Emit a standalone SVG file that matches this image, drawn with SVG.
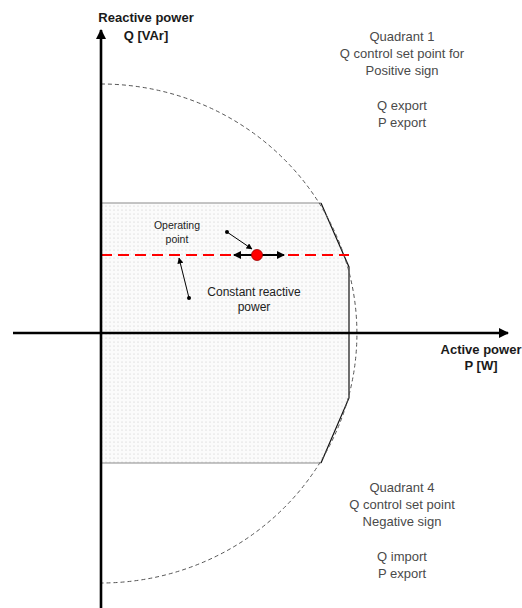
<svg xmlns="http://www.w3.org/2000/svg" width="522" height="608" viewBox="0 0 522 608">
<style>
.ax{stroke:#000;stroke-width:2.6;fill:none}
.lbl{font-family:"Liberation Sans",Arial,sans-serif;font-weight:bold;font-size:13px;fill:#1a1a1a;text-anchor:middle}
.q{font-family:"Liberation Sans",Arial,sans-serif;font-size:13px;fill:#4a4a4a;text-anchor:middle}
.sm{font-family:"Liberation Sans",Arial,sans-serif;font-size:10.5px;fill:#222;text-anchor:middle}
.md{font-family:"Liberation Sans",Arial,sans-serif;font-size:12px;fill:#222;text-anchor:middle}
.ptr{stroke:#000;stroke-width:1;fill:none}
</style>
<defs>
<pattern id="dots" width="4" height="4" patternUnits="userSpaceOnUse">
<rect width="4" height="4" fill="#fbfbfb"/>
<circle cx="2" cy="2" r="0.6" fill="#c8c8c8"/>
</pattern>
<marker id="ah" markerWidth="8" markerHeight="8" refX="7" refY="4" orient="auto" markerUnits="userSpaceOnUse">
<path d="M0,0 L8,4 L0,8 Z" fill="#000"/>
</marker>
<marker id="ahs" markerWidth="6" markerHeight="6" refX="5.5" refY="3" orient="auto" markerUnits="userSpaceOnUse">
<path d="M0,0 L6,3 L0,6 Z" fill="#000"/>
</marker>
<marker id="ahb" markerWidth="10" markerHeight="10" refX="9" refY="5" orient="auto" markerUnits="userSpaceOnUse">
<path d="M0,0 L10,5 L0,10 Z" fill="#000"/>
</marker>
</defs>
<g id="region">
<polygon points="101,203 321,203 349,267 349,398 321,463 101,463" fill="url(#dots)" stroke="none"/>
<polyline points="101,203 321,203" stroke="#8a8a8a" stroke-width="1.2" fill="none"/>
<polyline points="321,203 349,267 349,398 321,463" stroke="#111" stroke-width="1.2" fill="none"/>
<polyline points="321,463 101,463" stroke="#8a8a8a" stroke-width="1.2" fill="none"/>
</g>
<g id="circle">
<path d="M101,84 A256,249.5 0 0 1 101,583" fill="none" stroke="#555" stroke-width="1" stroke-dasharray="4,3"/>
</g>
<g id="constant-line">
<line x1="101" y1="255" x2="349" y2="255" stroke="#ff0000" stroke-width="2" stroke-dasharray="11,6"/>
</g>
<g id="axes">
<line class="ax" x1="13" y1="333" x2="508" y2="333" marker-end="url(#ahb)"/>
<line class="ax" x1="101" y1="608" x2="101" y2="30" stroke-width="3" marker-end="url(#ahb)"/>
</g>
<g id="connectors">
<line class="ptr" x1="227" y1="232" x2="252" y2="249" marker-end="url(#ahs)"/>
<line class="ptr" x1="189" y1="298" x2="179" y2="258" marker-end="url(#ahs)"/>
<circle cx="227" cy="232" r="2" fill="#000"/>
<circle cx="189" cy="298" r="2" fill="#000"/>
<line x1="257" y1="255" x2="234" y2="255" stroke="#000" stroke-width="2" marker-end="url(#ah)"/>
<line x1="257" y1="255" x2="284" y2="255" stroke="#000" stroke-width="2" marker-end="url(#ah)"/>
</g>
<g id="operating-point">
<circle cx="257" cy="255" r="5.5" fill="#ff0000" stroke="#900" stroke-width="0.8"/>
<text class="sm" x="177" y="229">Operating</text>
<text class="sm" x="177" y="243">point</text>
</g>
<g id="constant-label">
<text class="md" x="254" y="296">Constant reactive</text>
<text class="md" x="254" y="311">power</text>
</g>
<g id="q-axis-label">
<text class="lbl" x="146" y="22">Reactive power</text>
<text class="lbl" x="146" y="40">Q [VAr]</text>
</g>
<g id="p-axis-label">
<text class="lbl" x="481" y="354">Active power</text>
<text class="lbl" x="481" y="370">P [W]</text>
</g>
<g id="quadrant1">
<text class="q" x="402" y="41">Quadrant 1</text>
<text class="q" x="402" y="58">Q control set point for</text>
<text class="q" x="402" y="75">Positive sign</text>
<text class="q" x="402" y="110">Q export</text>
<text class="q" x="402" y="127">P export</text>
</g>
<g id="quadrant4">
<text class="q" x="402" y="492">Quadrant 4</text>
<text class="q" x="402" y="509">Q control set point</text>
<text class="q" x="402" y="526">Negative sign</text>
<text class="q" x="402" y="561">Q import</text>
<text class="q" x="402" y="578">P export</text>
</g>
</svg>
